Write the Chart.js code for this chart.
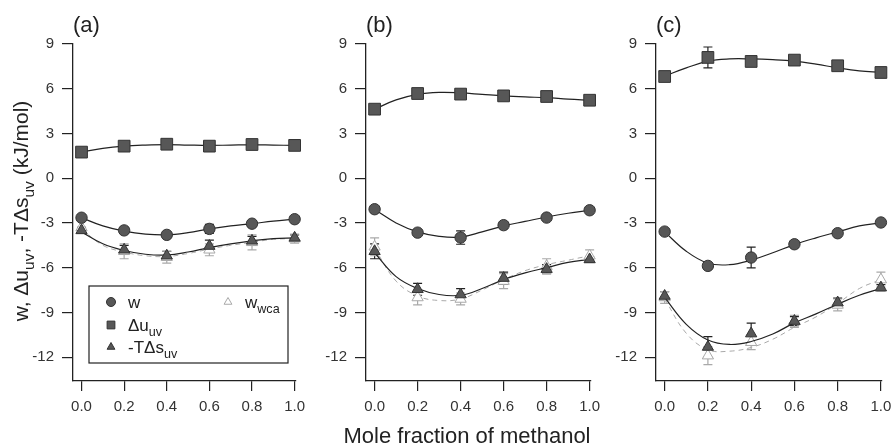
<!DOCTYPE html>
<html>
<head>
<meta charset="utf-8">
<script src="https://cdn.jsdelivr.net/npm/chart.js@4.4.1/dist/chart.umd.min.js"></script>
<style>
  body { margin: 0; background: #fff; }
  #wrap { position: relative; width: 895px; height: 447px; overflow: hidden; background: #fff; }
  canvas { position: absolute; top: 0; }
</style>
</head>
<body>
<div id="wrap">
  <canvas id="panelA" width="305" height="447" style="left:0px"></canvas>
  <canvas id="panelB" width="295" height="447" style="left:305px"></canvas>
  <canvas id="panelC" width="295" height="447" style="left:600px"></canvas>
</div>
<script>
// x positions of the simulated points and of the smooth fit curves
const xValues = [0, 0.2, 0.4, 0.6, 0.8, 1.0];
const xFit = [0, 0.1, 0.2, 0.3, 0.4, 0.5, 0.6, 0.7, 0.8, 0.9, 1.0];
const xTicks = [0, 0.2, 0.4, 0.6, 0.8, 1.0];
const yTicks = [-12, -9, -6, -3, 0, 3, 6, 9];

// panel (a)
const wA = [-2.65, -3.5, -3.8, -3.4, -3.05, -2.75];
const duA = [1.75, 2.15, 2.28, 2.15, 2.26, 2.2];
const tdsA = [-3.5, -4.8, -5.2, -4.55, -4.2, -4.0];
const wcaA = [-3.3, -4.9, -5.3, -4.8, -4.3, -4.05];
const wErrA = [0.2, 0.2, 0.15, 0.3, 0.2, 0.15];
const duErrA = [0.15, 0.15, 0.15, 0.15, 0.15, 0.15];
const tdsErrA = [0.2, 0.3, 0.3, 0.4, 0.3, 0.2];
const wcaErrA = [0.4, 0.5, 0.4, 0.4, 0.5, 0.3];
const wFitA = [-2.65, -3.2, -3.55, -3.75, -3.8, -3.65, -3.4, -3.2, -3.05, -2.88, -2.75];
const duFitA = [1.75, 2.0, 2.15, 2.22, 2.25, 2.22, 2.2, 2.22, 2.24, 2.22, 2.2];
const tdsFitA = [-3.6, -4.4, -4.85, -5.1, -5.15, -4.95, -4.65, -4.4, -4.2, -4.05, -4.0];
const wcaFitA = [-3.4, -4.5, -4.95, -5.2, -5.25, -5.05, -4.75, -4.5, -4.3, -4.1, -4.05];

// panel (b)
const wB = [-2.08, -3.65, -3.98, -3.15, -2.64, -2.15];
const duB = [4.63, 5.68, 5.64, 5.52, 5.48, 5.23];
const tdsB = [-4.9, -7.45, -7.8, -6.7, -6.1, -5.45];
const wcaB = [-4.6, -8.0, -8.1, -6.9, -5.9, -5.2];
const wErrB = [0.2, 0.15, 0.45, 0.2, 0.15, 0.1];
const duErrB = [0.15, 0.15, 0.15, 0.15, 0.15, 0.15];
const tdsErrB = [0.5, 0.4, 0.4, 0.4, 0.3, 0.2];
const wcaErrB = [0.6, 0.5, 0.4, 0.5, 0.5, 0.4];
const wFitB = [-2.1, -3.0, -3.6, -3.9, -3.95, -3.6, -3.2, -2.9, -2.6, -2.35, -2.15];
const duFitB = [4.63, 5.25, 5.62, 5.75, 5.72, 5.62, 5.52, 5.45, 5.4, 5.3, 5.23];
const tdsFitB = [-5.0, -6.6, -7.4, -7.8, -7.85, -7.4, -6.8, -6.35, -6.0, -5.65, -5.45];
const wcaFitB = [-4.7, -6.9, -7.9, -8.2, -8.1, -7.5, -6.8, -6.2, -5.8, -5.5, -5.2];

// panel (c)
const wC = [-3.58, -5.88, -5.32, -4.43, -3.69, -2.97];
const duC = [6.82, 8.1, 7.83, 7.92, 7.54, 7.09];
const tdsC = [-7.9, -11.32, -10.42, -9.58, -8.34, -7.34];
const wcaC = [-8.0, -11.9, -11.0, -9.6, -8.5, -6.8];
const wErrC = [0.15, 0.2, 0.7, 0.2, 0.15, 0.1];
const duErrC = [0.2, 0.7, 0.2, 0.2, 0.2, 0.15];
const tdsErrC = [0.3, 0.7, 0.7, 0.3, 0.3, 0.2];
const wcaErrC = [0.4, 0.6, 0.5, 0.4, 0.4, 0.5];
const wFitC = [-3.6, -4.9, -5.7, -5.8, -5.5, -5.0, -4.45, -4.0, -3.6, -3.2, -3.0];
const duFitC = [6.85, 7.4, 7.85, 8.0, 8.0, 7.95, 7.85, 7.65, 7.4, 7.2, 7.1];
const tdsFitC = [-8.0, -9.8, -10.85, -11.15, -10.95, -10.45, -9.7, -9.1, -8.45, -7.85, -7.4];
const wcaFitC = [-8.1, -10.4, -11.5, -11.6, -11.35, -10.8, -10.0, -9.3, -8.4, -7.4, -6.8];

// legend / axis text (main part + subscript)
const seriesNames = ['w', 'Δu', '-TΔs', 'w'];
const seriesSubs = ['', 'uv', 'uv', 'wca'];
const yTitleParts = [['w, Δu', 'uv'], [', -TΔs', 'uv'], [' (kJ/mol)', '']];
const xTitle = 'Mole fraction of methanol';

const FONT = "'Liberation Sans', Arial, Helvetica, sans-serif";
const INK = '#222';
const MARK = '#575757';
const LIGHT = '#a9a9a9';

function pts(xs, ys) {
  return xs.map((x, i) => ({ x: x, y: ys[i] }));
}

function markerSet(label, ys, errs, style, light) {
  return {
    label: label,
    data: pts(xValues, ys),
    err: errs,
    light: !!light,
    showLine: false,
    pointStyle: style,
    pointRadius: style === 'rect' ? 8.3 : (style === 'triangle' ? 6.5 : 5.7),
    pointBackgroundColor: light ? '#fff' : MARK,
    pointBorderColor: light ? LIGHT : '#333',
    pointBorderWidth: 1,
    clip: false
  };
}

function fitSet(ys, light) {
  return {
    label: '',
    data: pts(xFit, ys),
    pointRadius: 0,
    borderColor: light ? LIGHT : INK,
    borderWidth: light ? 1 : 1.2,
    borderDash: light ? [5, 4] : [],
    tension: 0.4,
    fill: false,
    clip: false
  };
}

function drawRich(ctx, parts, x, y, size) {
  let cx = x;
  parts.forEach(p => {
    ctx.font = size + 'px ' + FONT;
    ctx.fillText(p[0], cx, y);
    cx += ctx.measureText(p[0]).width;
    if (p[1]) {
      ctx.font = (size * 0.74) + 'px ' + FONT;
      ctx.fillText(p[1], cx, y + size * 0.3);
      cx += ctx.measureText(p[1]).width;
    }
  });
  return cx - x;
}

function richWidth(ctx, parts, size) {
  let w = 0;
  parts.forEach(p => {
    ctx.font = size + 'px ' + FONT;
    w += ctx.measureText(p[0]).width;
    if (p[1]) {
      ctx.font = (size * 0.74) + 'px ' + FONT;
      w += ctx.measureText(p[1]).width;
    }
  });
  return w;
}

const errorBars = {
  id: 'errorBars',
  beforeDatasetsDraw(chart) {
    const { ctx } = chart;
    const xs = chart.scales.x, ys = chart.scales.y;
    ctx.save();
    chart.data.datasets.forEach(ds => {
      if (!ds.err) return;
      ctx.strokeStyle = ds.light ? LIGHT : INK;
      ctx.lineWidth = 1.2;
      ds.data.forEach((p, i) => {
        const e = ds.err[i];
        if (!e) return;
        const px = xs.getPixelForValue(p.x);
        const top = ys.getPixelForValue(p.y + e);
        const bot = ys.getPixelForValue(p.y - e);
        ctx.beginPath();
        ctx.moveTo(px, top); ctx.lineTo(px, bot);
        ctx.moveTo(px - 4.5, top); ctx.lineTo(px + 4.5, top);
        ctx.moveTo(px - 4.5, bot); ctx.lineTo(px + 4.5, bot);
        ctx.stroke();
      });
    });
    ctx.restore();
  }
};

const panelText = {
  id: 'panelText',
  afterDraw(chart, args, opts) {
    const { ctx, chartArea } = chart;
    ctx.save();
    ctx.fillStyle = INK;
    ctx.textAlign = 'left';
    ctx.textBaseline = 'alphabetic';
    ctx.font = '22px ' + FONT;
    ctx.fillText(opts.label, chartArea.left, 32);

    if (opts.yTitle) {
      const size = 21;
      const w = richWidth(ctx, yTitleParts, size);
      ctx.save();
      ctx.translate(28, 211);
      ctx.rotate(-Math.PI / 2);
      drawRich(ctx, yTitleParts, -w / 2, 0, size);
      ctx.restore();
    }

    if (opts.xTitle) {
      ctx.font = '22px ' + FONT;
      ctx.textAlign = 'center';
      ctx.fillText(xTitle, opts.xTitle, 443);
      ctx.textAlign = 'left';
    }

    if (opts.legend) {
      ctx.fillStyle = '#fff';
      ctx.fillRect(89, 286, 199, 77);
      ctx.strokeStyle = INK;
      ctx.lineWidth = 1.2;
      ctx.strokeRect(89, 286, 199, 77);
      const spots = [[111, 302], [111, 325], [111, 347], [228, 302]];
      chart.data.datasets.slice(0, 4).forEach((ds, i) => {
        const [mx, my] = spots[i];
        ctx.fillStyle = ds.pointBackgroundColor;
        ctx.strokeStyle = ds.pointBorderColor;
        ctx.lineWidth = 1;
        Chart.helpers.drawPoint(ctx, {
          pointStyle: ds.pointStyle,
          radius: ds.pointStyle === 'rect' ? 5.5 : 4.5,
          rotation: 0,
          borderWidth: 1
        }, mx, my);
        ctx.fillStyle = INK;
        drawRich(ctx, [[seriesNames[i], seriesSubs[i]]], mx + 17, my + 6, 17);
      });
    }
    ctx.restore();
  }
};

function makePanel(id, series, fits, yWidth, padRight, textOpts) {
  const datasets = [
    markerSet('w', series[0], series[4], 'circle'),
    markerSet('Δu_uv', series[1], series[5], 'rect'),
    markerSet('-TΔs_uv', series[2], series[6], 'triangle'),
    markerSet('w_wca', series[3], series[7], 'triangle', true),
    fitSet(fits[0]),
    fitSet(fits[1]),
    fitSet(fits[2]),
    fitSet(fits[3], true)
  ];
  // light (w_wca) marks sit beneath the dark ones
  datasets[3].order = 1;
  datasets[7].order = 2;

  const axisTicks = (vals) => (scale) => {
    scale.ticks = vals.map(v => ({ value: v }));
  };

  new Chart(document.getElementById(id), {
    type: 'line',
    data: { datasets: datasets },
    options: {
      responsive: false,
      animation: false,
      devicePixelRatio: 1,
      layout: { padding: { left: 0, right: padRight, top: 44, bottom: 0 } },
      plugins: {
        legend: { display: false },
        tooltip: { enabled: false },
        panelText: textOpts
      },
      scales: {
        x: {
          type: 'linear',
          min: -0.04,
          max: 1.005,
          afterBuildTicks: axisTicks(xTicks),
          afterFit(scale) { scale.height = 66; scale.paddingLeft = 0; scale.paddingRight = 0; },
          grid: { drawOnChartArea: false, tickLength: 10, color: INK, lineWidth: 1.2 },
          border: { display: true, color: INK, width: 1.3 },
          ticks: {
            padding: 7,
            color: '#333',
            font: { family: FONT, size: 15 },
            callback: v => v.toFixed(1)
          }
        },
        y: {
          type: 'linear',
          min: -13.6,
          max: 9,
          afterBuildTicks: axisTicks(yTicks),
          afterFit(scale) { scale.width = yWidth; scale.paddingTop = 0; scale.paddingBottom = 0; },
          grid: { drawOnChartArea: false, tickLength: 11, color: INK, lineWidth: 1.2 },
          border: { display: true, color: INK, width: 1.3 },
          ticks: {
            padding: 8,
            color: '#333',
            font: { family: FONT, size: 15 },
            callback: v => String(v)
          }
        }
      }
    },
    plugins: [errorBars, panelText]
  });
}

makePanel('panelA',
  [wA, duA, tdsA, wcaA, wErrA, duErrA, tdsErrA, wcaErrA],
  [wFitA, duFitA, tdsFitA, wcaFitA],
  73, 5, { label: '(a)', yTitle: true, legend: true });

makePanel('panelB',
  [wB, duB, tdsB, wcaB, wErrB, duErrB, tdsErrB, wcaErrB],
  [wFitB, duFitB, tdsFitB, wcaFitB],
  61, 9, { label: '(b)', xTitle: 162 });

makePanel('panelC',
  [wC, duC, tdsC, wcaC, wErrC, duErrC, tdsErrC, wcaErrC],
  [wFitC, duFitC, tdsFitC, wcaFitC],
  56, 13, { label: '(c)' });
</script>
</body>
</html>
